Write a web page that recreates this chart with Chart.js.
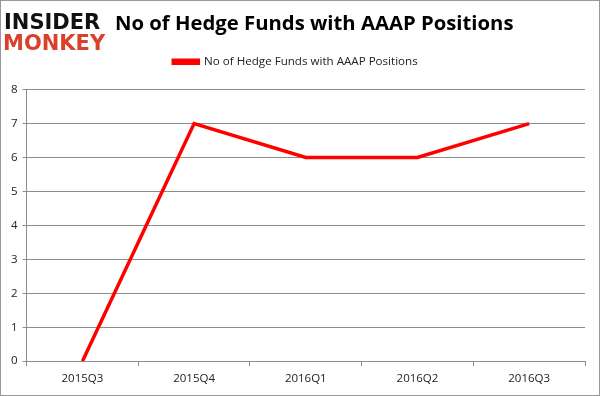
<!DOCTYPE html>
<html>
<head>
<meta charset="utf-8">
<script src="https://cdn.jsdelivr.net/npm/chart.js@4.4.0/dist/chart.umd.min.js"></script>
<style>
  html, body { margin: 0; padding: 0; background: #fff; }
  #wrap { width: 600px; height: 396px; position: relative; }
</style>
</head>
<body>
<div id="wrap"><canvas id="chart" width="600" height="396"></canvas></div>
<script>
const quarters = ['2015Q3', '2015Q4', '2016Q1', '2016Q2', '2016Q3']
const hedgeFunds = [0, 7, 6, 6, 7]
const yTicks = [0, 1, 2, 3, 4, 5, 6, 7, 8]

const gridGray = '#8c8c8c'
const labelFont = { family: 'Open Sans', size: 11.5 }

// logo, title and outer frame
const decorations = {
  id: 'decorations',
  beforeInit(chart) {
    // extra space under the legend
    const fit = chart.legend.fit
    chart.legend.fit = function () {
      fit.bind(chart.legend)()
      this.height += 12
    }
  },
  afterDraw(chart) {
    const ctx = chart.ctx
    ctx.save()
    ctx.strokeStyle = '#999'
    ctx.lineWidth = 1
    ctx.strokeRect(0.5, 0.5, 599, 395)

    ctx.textBaseline = 'alphabetic'
    ctx.textAlign = 'left'
    ctx.font = 'bold 21px "DejaVu Sans"'
    ctx.fillStyle = '#111'
    ctx.fillText('INSIDER', 4, 29)
    ctx.fillStyle = '#d9412b'
    ctx.fillText('MONKEY', 3, 50)

    ctx.font = 'bold 20.3px "Open Sans"'
    ctx.fillStyle = '#000'
    ctx.fillText('No of Hedge Funds with AAAP Positions', 115, 30)
    ctx.restore()
  }
}

new Chart(document.getElementById('chart').getContext('2d'), {
  type: 'line',
  data: {
    labels: quarters,
    datasets: [{
      label: 'No of Hedge Funds with AAAP Positions',
      data: hedgeFunds,
      borderColor: '#ff0000',
      backgroundColor: '#ff0000',
      borderWidth: 3.5,
      pointRadius: 0,
      tension: 0
    }]
  },
  options: {
    responsive: false,
    animation: false,
    layout: { padding: { top: 46, right: 15, left: 6, bottom: 4 } },
    plugins: {
      legend: {
        labels: {
          boxWidth: 25,
          boxHeight: 3,
          color: '#222',
          font: { family: 'Open Sans', size: 11.6 },
          padding: 10
        }
      },
      tooltip: { enabled: false }
    },
    scales: {
      x: {
        offset: true,
        grid: { offset: true, drawOnChartArea: false, drawTicks: true, tickLength: 5, color: gridGray },
        border: { color: gridGray },
        ticks: { color: '#222', font: labelFont, padding: 6 }
      },
      y: {
        min: 0,
        max: 8,
        afterBuildTicks(scale) { scale.ticks = yTicks.map(v => ({ value: v })) },
        grid: { color: gridGray, tickLength: 4 },
        border: { color: gridGray },
        ticks: { color: '#222', font: labelFont, padding: 5 }
      }
    }
  },
  plugins: [decorations]
})
</script>
</body>
</html>
